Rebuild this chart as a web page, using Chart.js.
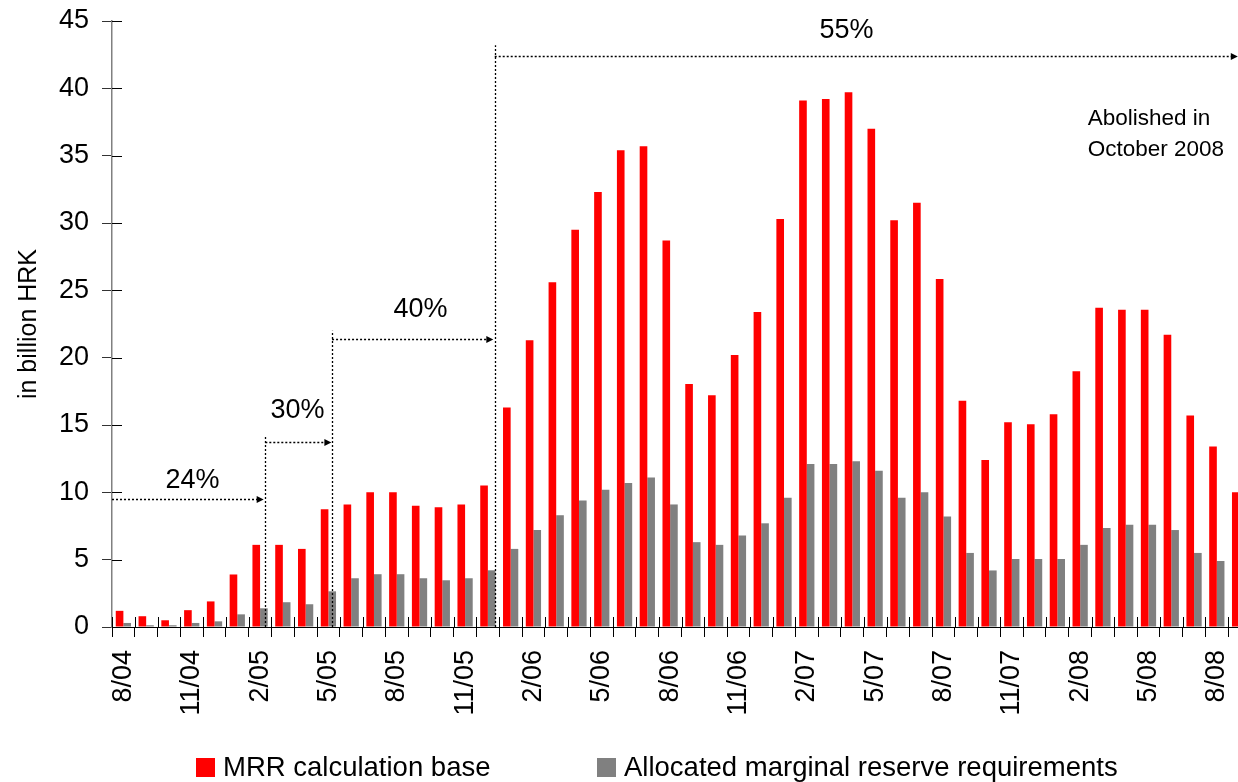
<!DOCTYPE html>
<html>
<head>
<meta charset="utf-8">
<script src="https://cdn.jsdelivr.net/npm/chart.js@4.4.1/dist/chart.umd.min.js"></script>
<style>
  html, body { margin: 0; padding: 0; overflow: hidden; background: #ffffff; }
  #wrap { width: 1251px; height: 782px; }
</style>
</head>
<body>
<div id="wrap"><canvas id="chart" width="1251" height="782"></canvas></div>
<script>
// Months, August 2004 to September 2008
const months = [
  '8/04','9/04','10/04','11/04','12/04',
  '1/05','2/05','3/05','4/05','5/05','6/05','7/05','8/05','9/05','10/05','11/05','12/05',
  '1/06','2/06','3/06','4/06','5/06','6/06','7/06','8/06','9/06','10/06','11/06','12/06',
  '1/07','2/07','3/07','4/07','5/07','6/07','7/07','8/07','9/07','10/07','11/07','12/07',
  '1/08','2/08','3/08','4/08','5/08','6/08','7/08','8/08','9/08'
];

// MRR calculation base, billion HRK
const mrrBase = [
  1.2, 0.8, 0.5, 1.25, 1.9,
  3.9, 6.1, 6.1, 5.8, 8.75, 9.1, 10.0, 10.0, 9.0, 8.9, 9.1, 10.5,
  16.3, 21.3, 25.6, 29.5, 32.3, 35.4, 35.7, 28.7, 18.05, 17.2, 20.2, 23.4,
  30.3, 39.1, 39.2, 39.7, 37.0, 30.2, 31.5, 25.85, 16.8, 12.4, 15.2, 15.05,
  15.8, 19.0, 23.7, 23.55, 23.55, 21.7, 15.7, 13.4, 10.0
];

// Allocated marginal reserve requirements, billion HRK
const allocatedMrr = [
  0.3, 0.13, 0.13, 0.3, 0.42,
  0.94, 1.39, 1.84, 1.69, 2.65, 3.62, 3.92, 3.92, 3.62, 3.47, 3.62, 4.21,
  5.8, 7.2, 8.3, 9.4, 10.2, 10.7, 11.1, 9.1, 6.3, 6.1, 6.8, 7.7,
  9.6, 12.1, 12.1, 12.3, 11.6, 9.6, 10.0, 8.2, 5.5, 4.2, 5.05, 5.05,
  5.05, 6.1, 7.35, 7.6, 7.6, 7.2, 5.5, 4.9, null
];

// Every third month carries a label
const labelEvery = 3;

// Marginal reserve rate periods (x in category units, y in billion HRK)
const rateLabels = ['24%', '30%', '40%', '55%'];
const rateFrom   = [-0.5, 6.23, 9.16, 16.3];
const rateTo     = [6.16, 9.13, 16.24, 48.92];
const rateLevel  = [9.53, 13.74, 21.36, 42.4];
const rateTextX  = [3.03, 7.64, 13.04, 31.74];
const rateTextY  = [10.85, 16.04, 23.6, 44.26];
// Vertical markers where the rate changes (at rateFrom[1..3])
const changeTop  = [14.26, 22.0, 43.2];

// Note in the upper right corner
const noteLines = ['Abolished in', 'October 2008'];
const noteX = 42.33;
const noteY = [37.72, 35.42];

const FONT = "'Liberation Sans', Arial, Helvetica, sans-serif";

// Short tick marks on the inner side of both axes
const innerTicks = {
  id: 'innerTicks',
  beforeDatasetsDraw(chart) {
    const { ctx, chartArea: a, scales: { x, y } } = chart;
    ctx.save();
    ctx.strokeStyle = '#000';
    ctx.lineWidth = 1;
    const n = x.ticks.length;
    const step = (a.right - a.left) / n;
    for (let i = 0; i <= n; i++) {
      const px = Math.round(a.left + i * step) + 0.5;
      ctx.beginPath(); ctx.moveTo(px, a.bottom - 10); ctx.lineTo(px, a.bottom); ctx.stroke();
    }
    y.ticks.forEach(t => {
      const py = Math.round(y.getPixelForValue(t.value)) + 0.5;
      ctx.beginPath(); ctx.moveTo(a.left, py); ctx.lineTo(a.left + 10, py); ctx.stroke();
    });
    ctx.restore();
  }
};

// Dotted arrows marking the rate periods, plus the note
const ratePeriods = {
  id: 'ratePeriods',
  afterDatasetsDraw(chart) {
    const { ctx, scales: { x, y } } = chart;
    ctx.save();
    ctx.strokeStyle = '#000';
    ctx.fillStyle = '#000';
    ctx.lineWidth = 1.3;
    ctx.setLineDash([2, 2]);
    const y0 = y.getPixelForValue(0);
    changeTop.forEach((top, k) => {
      const px = Math.round(x.getPixelForValue(rateFrom[k + 1])) + 0.5;
      ctx.beginPath(); ctx.moveTo(px, y0); ctx.lineTo(px, y.getPixelForValue(top)); ctx.stroke();
    });
    rateLabels.forEach((lbl, i) => {
      const x1 = x.getPixelForValue(rateFrom[i]);
      const x2 = x.getPixelForValue(rateTo[i]);
      const py = Math.round(y.getPixelForValue(rateLevel[i])) + 0.5;
      ctx.setLineDash([2, 2]);
      ctx.beginPath(); ctx.moveTo(x1, py); ctx.lineTo(x2 - 6, py); ctx.stroke();
      ctx.setLineDash([]);
      ctx.beginPath();
      ctx.moveTo(x2, py); ctx.lineTo(x2 - 7, py - 3.5); ctx.lineTo(x2 - 7, py + 3.5);
      ctx.closePath(); ctx.fill();
    });
    ctx.font = '27px ' + FONT;
    ctx.textAlign = 'center';
    ctx.textBaseline = 'middle';
    rateLabels.forEach((lbl, i) => {
      ctx.fillText(lbl, x.getPixelForValue(rateTextX[i]), y.getPixelForValue(rateTextY[i]));
    });
    ctx.font = '22.5px ' + FONT;
    ctx.textAlign = 'left';
    noteLines.forEach((line, i) => {
      ctx.fillText(line, x.getPixelForValue(noteX), y.getPixelForValue(noteY[i]));
    });
    ctx.restore();
  }
};

// Legend row under the axis labels
const legendRow = {
  id: 'legendRow',
  afterDraw(chart) {
    const { ctx } = chart;
    const boxX = [196, 597];
    ctx.save();
    ctx.font = '27.5px ' + FONT;
    ctx.textBaseline = 'alphabetic';
    ctx.textAlign = 'left';
    chart.data.datasets.forEach((ds, i) => {
      ctx.fillStyle = ds.backgroundColor;
      ctx.fillRect(boxX[i], 758, 19, 19);
      ctx.fillStyle = '#000';
      ctx.fillText(ds.label, boxX[i] + 27, 776);
    });
    ctx.restore();
  }
};

new Chart(document.getElementById('chart'), {
  type: 'bar',
  data: {
    labels: months,
    datasets: [
      {
        label: 'MRR calculation base',
        data: mrrBase,
        backgroundColor: '#ff0000',
        borderWidth: 0,
        barPercentage: 1.0,
        categoryPercentage: 0.67
      },
      {
        label: 'Allocated marginal reserve requirements',
        data: allocatedMrr,
        backgroundColor: '#808080',
        borderWidth: 0,
        barPercentage: 1.0,
        categoryPercentage: 0.67
      }
    ]
  },
  options: {
    responsive: false,
    animation: false,
    layout: { padding: { top: 21, right: 0, bottom: 0, left: 0 } },
    plugins: {
      legend: { display: false },
      tooltip: { enabled: false }
    },
    scales: {
      x: {
        offset: true,
        grid: { drawOnChartArea: false, drawTicks: true, tickLength: 10, color: '#000', offset: true },
        border: { display: true, color: '#000', width: 1 },
        ticks: {
          autoSkip: false,
          minRotation: 90,
          maxRotation: 90,
          padding: 13,
          color: '#000',
          font: { family: FONT, size: 27 },
          callback: (v, i) => (i % labelEvery === 0 ? months[i] : '')
        },
        afterFit: s => {
          s.height = 155;
          s.paddingLeft = 0;
          s.paddingRight = 0;
        }
      },
      y: {
        min: 0,
        max: 45,
        grid: { drawOnChartArea: false, drawTicks: true, tickLength: 10, color: '#333' },
        border: { display: true, color: '#808080', width: 1.5 },
        ticks: {
          stepSize: 5,
          padding: 13,
          color: '#000',
          font: { family: FONT, size: 27 }
        },
        title: {
          display: true,
          text: 'in billion HRK',
          color: '#000',
          font: { family: FONT, size: 25 },
          padding: { top: 14, bottom: 0 }
        },
        afterFit: s => {
          s.width = 112;
          s.paddingTop = 0;
          s.paddingBottom = 0;
        }
      }
    }
  },
  plugins: [innerTicks, ratePeriods, legendRow]
});
</script>
</body>
</html>
